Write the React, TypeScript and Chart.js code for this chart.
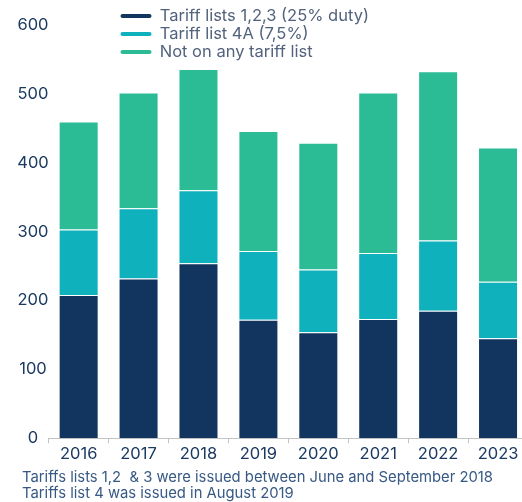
import React, { useEffect, useRef } from "react";
import { Chart, registerables } from "chart.js";

Chart.register(...registerables);

const years = ["2016", "2017", "2018", "2019", "2020", "2021", "2022", "2023"];
const lists123 = [208, 232, 254, 172, 154, 173, 185, 145];
const list4A = [95, 102, 106, 100, 91, 96, 102, 82];
const notListed = [157, 168, 176, 174, 184, 233, 246, 195];
const seriesNames = ["Tariff lists 1,2,3 (25% duty)", "Tariff list 4A (7,5%)", "Not on any tariff list"];
const footnote = [
  "Tariffs lists 1,2  & 3 were issued between June and September 2018",
  "Tariffs list 4 was issued in August 2019",
];
const yTicks = [0, 100, 200, 300, 400, 500, 600];

const FONT = "Inter";

export default function App() {
  const ref = useRef<HTMLCanvasElement | null>(null);
  useEffect(() => {
    if (!ref.current) return;
    const shiftBlocks = {
      id: "shiftBlocks",
      beforeDraw(chart: any) {
        if (chart.legend) {
          chart.legend.left = 119;
          chart.legend.top = 6.2;
        }
        if (chart.titleBlock) {
          chart.titleBlock.left = 22;
        }
      },
    };
    const border = "rgba(255,255,255,0.3)";
    const chart = new Chart(ref.current, {
      type: "bar",
      data: {
        labels: years,
        datasets: [
          { label: seriesNames[0], data: lists123, backgroundColor: "#12355f", borderColor: border, borderWidth: 1 },
          { label: seriesNames[1], data: list4A, backgroundColor: "#0fb1bc", borderColor: border, borderWidth: 1 },
          { label: seriesNames[2], data: notListed, backgroundColor: "#2bbb95", borderColor: border, borderWidth: 1 },
        ],
      },
      options: {
        responsive: false,
        animation: false,
        layout: { padding: { left: 0, right: 12, top: 25, bottom: 0 } },
        datasets: { bar: { categoryPercentage: 1, barPercentage: 0.668 } },
        scales: {
          x: {
            stacked: true,
            grid: { display: true, offset: true, drawOnChartArea: false, drawTicks: true, tickLength: 5, color: "#c4c4c4" },
            border: { display: true, color: "#c4c4c4", width: 1 },
            ticks: { color: "#1b3a62", font: { family: FONT, size: 16.5 }, padding: 1 },
          },
          y: {
            stacked: true,
            min: 0,
            max: 600,
            afterBuildTicks(scale: any) {
              scale.ticks = yTicks.map((v) => ({ value: v }));
            },
            afterFit(scale: any) {
              scale.width = 48.7;
            },
            grid: { display: false, drawTicks: false },
            border: { display: false },
            ticks: { color: "#1b3a62", font: { family: FONT, size: 16.5 }, padding: 0, crossAlign: "center" },
          },
        },
        plugins: {
          tooltip: { enabled: false },
          legend: {
            position: "chartArea",
            align: "start",
            labels: {
              boxWidth: 31,
              boxHeight: 4,
              padding: 1.5,
              useBorderRadius: true,
              borderRadius: 2,
              color: "#52627c",
              font: { family: FONT, size: 16.5 },
              generateLabels(c: any) {
                const items = Chart.defaults.plugins.legend.labels.generateLabels(c);
                return items.map((it: any) => ({ ...it, lineWidth: 0 }));
              },
            },
          },
          title: {
            display: true,
            position: "bottom",
            align: "start",
            text: footnote,
            color: "#375984",
            font: { family: FONT, size: 14.8, weight: "normal", lineHeight: 16 / 14.8 },
            padding: { top: 5, bottom: 0 },
          },
        },
      },
      plugins: [shiftBlocks],
    } as any);
    return () => chart.destroy();
  }, []);
  return (
    <div style={{ position: "absolute", left: 0, top: 0, width: 522, height: 502, overflow: "hidden", background: "#fff" }}>
      <canvas ref={ref} width={540} height={502} style={{ display: "block" }} />
    </div>
  );
}
